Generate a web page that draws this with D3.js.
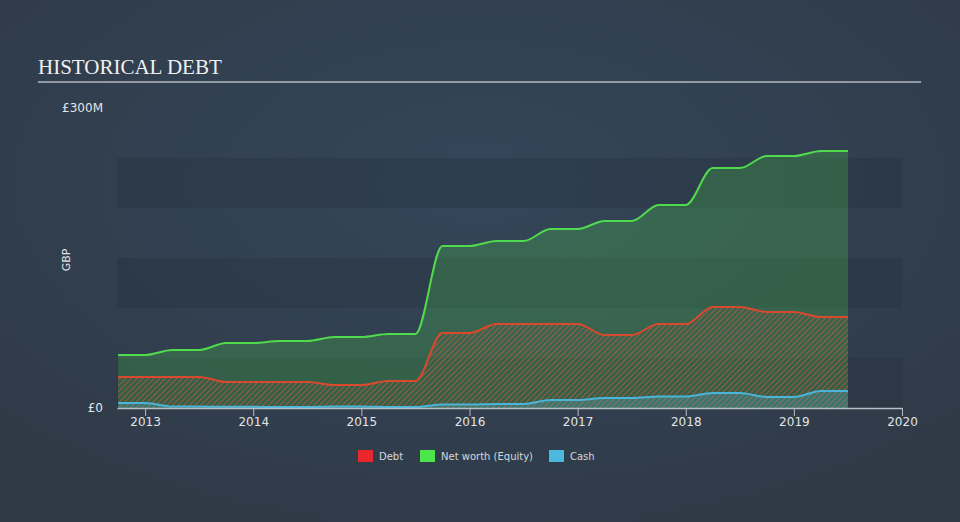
<!DOCTYPE html>
<html>
<head>
<meta charset="utf-8">
<script src="https://d3js.org/d3.v7.min.js"></script>
<style>
    body { margin: 0; background: #323f4f; }
    svg { display: block; }
</style>
</head>
<body>
<div id="chart"></div>
<script>
// page setup
const width = 960;
const height = 522;
const plot = { left: 117, right: 902, top: 108, bottom: 408 };

// quarter ends, as fractional years
const quarters = [2012.75, 2013.0, 2013.25, 2013.5, 2013.75, 2014.0, 2014.25, 2014.5, 2014.75,
    2015.0, 2015.25, 2015.5, 2015.75, 2016.0, 2016.25, 2016.5, 2016.75, 2017.0, 2017.25,
    2017.5, 2017.75, 2018.0, 2018.25, 2018.5, 2018.75, 2019.0, 2019.25, 2019.5];

// values in £M
const netWorth = [53, 53, 58, 58, 65, 65, 67, 67, 71, 71, 74, 74, 162, 162, 167, 167, 179, 179,
    187, 187, 203, 203, 240, 240, 252, 252, 257, 257];
const debt = [31, 31, 31, 31, 26, 26, 26, 26, 23, 23, 27, 27, 75, 75, 84, 84, 84, 84,
    73, 73, 84, 84, 101, 101, 96, 96, 91, 91];
const cash = [5, 5, 1.5, 1.5, 1.2, 1.2, 1, 1, 1.5, 1.5, 1, 1, 3.5, 3.5, 4, 4, 8, 8,
    10, 10, 11.5, 11.5, 15, 15, 11, 11, 17, 17];

const yearTicks = [2013, 2014, 2015, 2016, 2017, 2018, 2019, 2020];
const bandStarts = [0, 100, 200]; // darker grid bands, 50M tall

const legendItems = ["Debt", "Net worth (Equity)", "Cash"];
const legendColors = ["#e8262b", "#4ee54a", "#4bb8de"];

const sans = "DejaVu Sans, Verdana, sans-serif";

const svg = d3.select("#chart")
    .append("svg")
    .attr("width", width)
    .attr("height", height);

const defs = svg.append("defs");

// soft background glow
const bg = defs.append("radialGradient")
    .attr("id", "bg")
    .attr("cx", "50%").attr("cy", "35%").attr("r", "70%");
bg.append("stop").attr("offset", "0%").attr("stop-color", "#34465a");
bg.append("stop").attr("offset", "100%").attr("stop-color", "#2f3a47");

// hatch for the debt area
const hatch = defs.append("pattern")
    .attr("id", "hatch")
    .attr("patternUnits", "userSpaceOnUse")
    .attr("width", 4)
    .attr("height", 4)
    .attr("patternTransform", "rotate(45)");
hatch.append("line")
    .attr("x1", 0).attr("y1", 0)
    .attr("x2", 0).attr("y2", 4)
    .attr("stroke", "#c65a38")
    .attr("stroke-width", 1.7)
    .attr("stroke-opacity", 0.85);

svg.append("rect")
    .attr("width", width)
    .attr("height", height)
    .attr("fill", "url(#bg)");

// title + rule
svg.append("text")
    .attr("x", 38)
    .attr("y", 74)
    .attr("font-family", "Liberation Serif, Times New Roman, serif")
    .attr("font-size", "21px")
    .attr("fill", "#f0f0f0")
    .text("HISTORICAL DEBT");

svg.append("line")
    .attr("x1", 38).attr("x2", 921)
    .attr("y1", 82).attr("y2", 82)
    .attr("stroke", "#b5bac0")
    .attr("stroke-width", 1.5);

// scales
const x = d3.scaleLinear()
    .domain([2012.74, 2020])
    .range([plot.left, plot.right]);

const y = d3.scaleLinear()
    .domain([0, 300])
    .range([plot.bottom, plot.top]);

// grid bands
svg.selectAll(".band")
    .data(bandStarts)
    .enter()
    .append("rect")
    .attr("class", "band")
    .attr("x", plot.left)
    .attr("width", plot.right - plot.left)
    .attr("y", d => y(d + 50))
    .attr("height", d => y(d) - y(d + 50))
    .attr("fill", "#26303c")
    .attr("opacity", 0.35);

const rows = quarters.map((q, i) => ({ t: q, nw: netWorth[i], debt: debt[i], cash: cash[i] }));

const area = key => d3.area()
    .curve(d3.curveMonotoneX)
    .x(d => x(d.t))
    .y0(y(0))
    .y1(d => y(d[key]));

const line = key => d3.line()
    .curve(d3.curveMonotoneX)
    .x(d => x(d.t))
    .y(d => y(d[key]));

// areas
svg.append("path")
    .datum(rows)
    .attr("d", area("nw"))
    .attr("fill", "#4ed94a")
    .attr("fill-opacity", 0.24);

svg.append("path")
    .datum(rows)
    .attr("d", area("debt"))
    .attr("fill", "url(#hatch)");

svg.append("path")
    .datum(rows)
    .attr("d", area("cash"))
    .attr("fill", "#4bb8de")
    .attr("fill-opacity", 0.25);

// lines
svg.append("path")
    .datum(rows)
    .attr("d", line("nw"))
    .attr("fill", "none")
    .attr("stroke", "#4fdb4b")
    .attr("stroke-width", 2);

svg.append("path")
    .datum(rows)
    .attr("d", line("debt"))
    .attr("fill", "none")
    .attr("stroke", "#d9492d")
    .attr("stroke-width", 2);

svg.append("path")
    .datum(rows)
    .attr("d", line("cash"))
    .attr("fill", "none")
    .attr("stroke", "#48b6da")
    .attr("stroke-width", 2);

// x axis
const xAxis = svg.append("g")
    .attr("transform", `translate(0,${plot.bottom})`)
    .call(d3.axisBottom(x)
        .tickValues(yearTicks)
        .tickFormat(d3.format("d"))
        .tickSize(8)
        .tickSizeOuter(0));

xAxis.select(".domain")
    .attr("stroke", "#b8bec6")
    .attr("stroke-width", 1.5);
xAxis.selectAll(".tick line")
    .attr("stroke", "#b8bec6");
xAxis.selectAll(".tick text")
    .attr("fill", "#e2e4e6")
    .attr("font-family", sans)
    .attr("font-size", "12px")
    .attr("dy", "0.55em");

// y labels (only the ends are shown)
svg.selectAll(".ylab")
    .data([0, 300])
    .enter()
    .append("text")
    .attr("class", "ylab")
    .attr("x", 103)
    .attr("y", d => y(d))
    .attr("dy", "0.35em")
    .attr("text-anchor", "end")
    .attr("font-family", sans)
    .attr("font-size", "12px")
    .attr("fill", "#e2e4e6")
    .text(d => d === 0 ? "£0" : `£${d}M`);

svg.append("text")
    .attr("transform", "translate(70,260) rotate(-90)")
    .attr("text-anchor", "middle")
    .attr("font-family", sans)
    .attr("font-size", "11px")
    .attr("fill", "#e2e4e6")
    .text("GBP");

// legend
const legendX = [358, 420, 549];
const legend = svg.selectAll(".legend")
    .data(legendItems)
    .enter()
    .append("g")
    .attr("class", "legend")
    .attr("transform", (d, i) => `translate(${legendX[i]},450)`);

legend.append("rect")
    .attr("width", 15)
    .attr("height", 12)
    .attr("fill", (d, i) => legendColors[i]);

legend.append("text")
    .attr("x", 21)
    .attr("y", 10)
    .attr("font-family", sans)
    .attr("font-size", "10px")
    .attr("fill", "#d4d8dc")
    .text(d => d);
</script>
</body>
</html>
